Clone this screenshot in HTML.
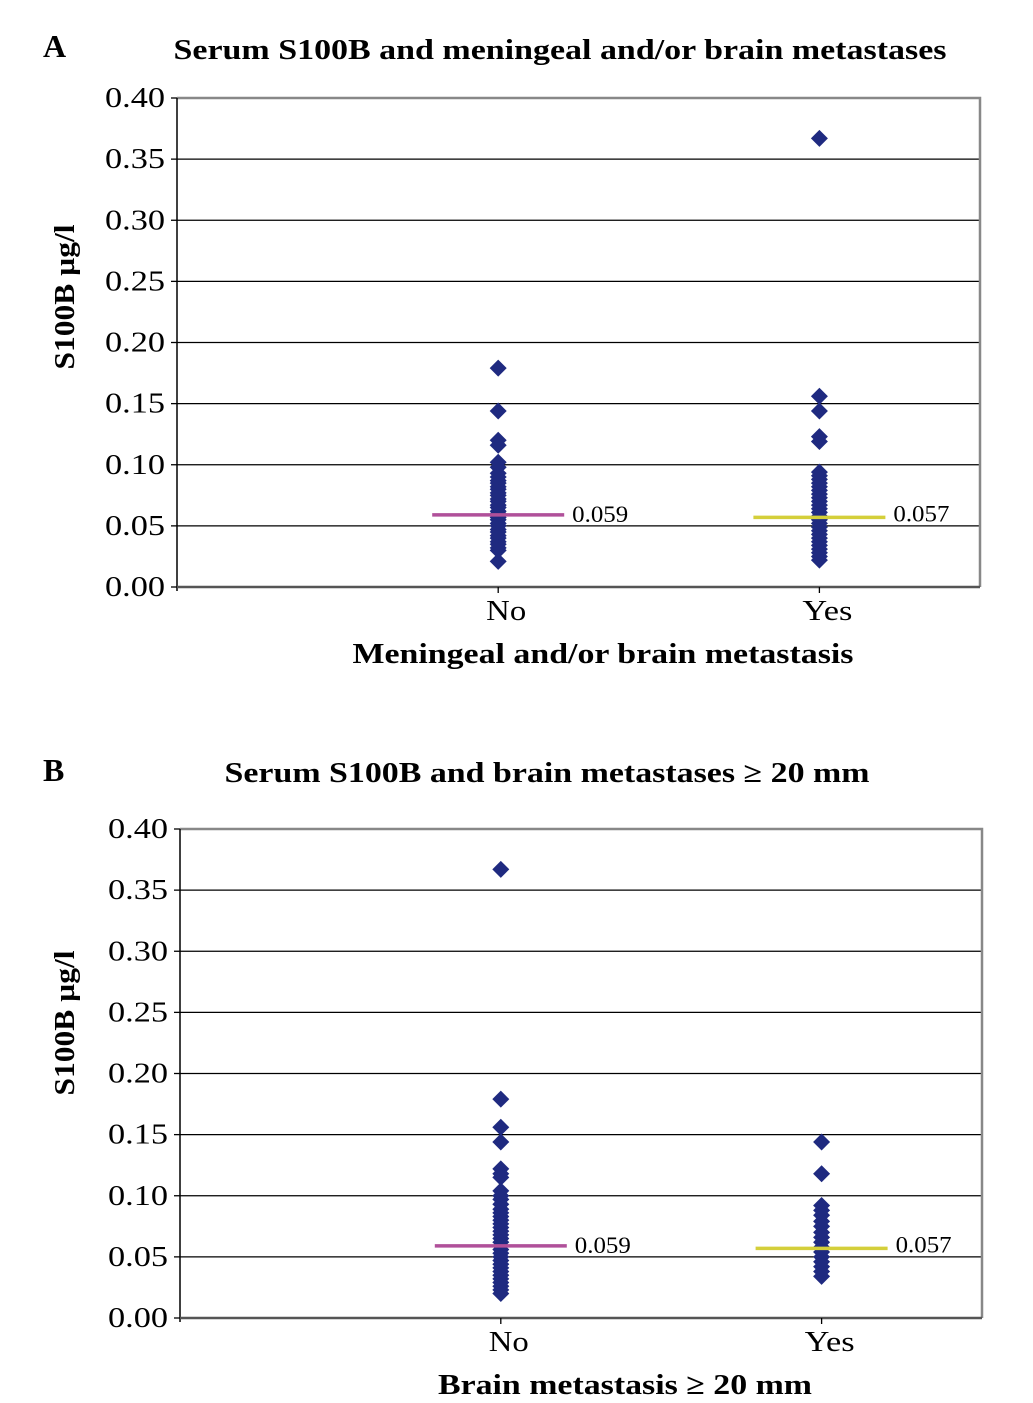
<!DOCTYPE html>
<html><head><meta charset="utf-8">
<style>
html,body{margin:0;padding:0;background:#fff;}
svg{display:block;font-family:"Liberation Serif",serif;}
</style></head>
<body>
<svg id="fig" width="1033" height="1403" viewBox="0 0 1033 1403"></svg>
<script>
const yTicks = [0.00,0.05,0.10,0.15,0.20,0.25,0.30,0.35,0.40];
const tickLabels = ["0.00","0.05","0.10","0.15","0.20","0.25","0.30","0.35","0.40"];
const categories = ["No","Yes"];
const aNo = [0.179,0.144,0.120,0.116,0.102,0.098,0.093,0.090,0.087,0.085,0.082,0.080,0.077,0.075,0.072,0.070,0.067,0.065,0.062,0.060,0.057,0.055,0.052,0.050,0.047,0.045,0.042,0.040,0.037,0.035,0.032,0.030,0.021];
const aYes = [0.367,0.156,0.144,0.123,0.119,0.094,0.091,0.088,0.085,0.082,0.079,0.076,0.073,0.070,0.067,0.064,0.061,0.058,0.055,0.052,0.049,0.046,0.043,0.040,0.037,0.034,0.031,0.028,0.025,0.022];
const bNo = [0.367,0.179,0.156,0.144,0.122,0.118,0.115,0.104,0.100,0.097,0.093,0.089,0.086,0.083,0.080,0.077,0.074,0.071,0.068,0.065,0.062,0.059,0.056,0.053,0.050,0.047,0.044,0.041,0.038,0.035,0.032,0.029,0.026,0.023,0.020];
const bYes = [0.144,0.118,0.092,0.088,0.084,0.079,0.075,0.070,0.066,0.062,0.058,0.054,0.050,0.046,0.042,0.038,0.034];
const aMeans = [0.059,0.057];
const bMeans = [0.059,0.057];
const meanLabels = ["0.059","0.057"];

const NS="http://www.w3.org/2000/svg";
const svg=document.getElementById('fig');
function mk(tag,attrs,parent){const e=document.createElementNS(NS,tag);for(const k in attrs)e.setAttribute(k,attrs[k]);(parent||svg).appendChild(e);return e;}

function panel(p){
  const g=mk('g',{});
  
  
  const W=p.right-p.left;
  const y=v=>p.bottom-(v/0.40)*(p.bottom-p.top);
  const x=i=>p.left+[0.4,0.8][i]*W;
  let t=mk('text',{x:p.letterX,y:p.letterY,'font-size':32,'font-weight':'bold'},g);t.textContent=p.letter;
  
  t=mk('text',{x:p.titleX,y:p.titleY,'font-size':28,'font-weight':'bold','text-anchor':'middle',textLength:p.titleW,lengthAdjust:'spacingAndGlyphs'},g);t.textContent=p.title;
  
  yTicks.forEach((v,i)=>{
    const yy=y(v);
    if(i>0&&i<yTicks.length-1){const l=mk('line',{x1:p.left,x2:p.right,y1:yy,y2:yy,stroke:'#000','stroke-width':1.3},g);
      }
    mk('line',{x1:p.left-6,x2:p.left,y1:yy,y2:yy,stroke:'#000','stroke-width':1.3},g);
    const tl=mk('text',{x:p.left-12,y:yy+9,'font-size':28,'text-anchor':'end',textLength:60,lengthAdjust:'spacingAndGlyphs'},g);tl.textContent=tickLabels[i];
    
  });
  mk('polyline',{points:`${p.left},${p.top} ${p.right},${p.top} ${p.right},${p.bottom}`,fill:'none',stroke:'#888','stroke-width':2.5},g);
  mk('line',{x1:p.left,x2:p.left,y1:p.top,y2:p.bottom+4,stroke:'#000','stroke-width':1.5},g);
  mk('line',{x1:p.left,x2:p.right,y1:p.bottom,y2:p.bottom,stroke:'#555','stroke-width':2.5},g);
  categories.forEach((c,i)=>{
    mk('line',{x1:x(i),x2:x(i),y1:p.bottom,y2:p.bottom+6,stroke:'#000','stroke-width':1.3},g);
    const cl=mk('text',{x:x(i)+8,y:p.bottom+33,'font-size':29,'text-anchor':'middle',textLength:[40,50][i],lengthAdjust:'spacingAndGlyphs'},g);cl.textContent=c;
    
  });
  t=mk('text',{x:p.xTitleX,y:p.bottom+76,'font-size':29,'font-weight':'bold','text-anchor':'middle',textLength:p.xTitleW,lengthAdjust:'spacingAndGlyphs'},g);t.textContent=p.xTitle;
  
  const cy=p.yTitleC;
  t=mk('text',{x:0,y:0,'font-size':29,'font-weight':'bold','text-anchor':'middle',textLength:145,lengthAdjust:'spacingAndGlyphs',transform:`translate(74,${cy}) rotate(-90)`},g);t.textContent='S100B µg/l';
  
  [p.no,p.yes].forEach((arr,i)=>{
    arr.forEach(v=>{
      const cx=x(i),yy=y(v),r=8.5;
      const d=mk('polygon',{points:`${cx},${yy-r} ${cx+r},${yy} ${cx},${yy+r} ${cx-r},${yy}`,fill:'#1f2a80'},g);
      
    });
  });
  const colors=['#b0509a','#d4cf3a'];
  p.means.forEach((m,i)=>{
    const yy=y(m);
    const l=mk('line',{x1:x(i)-66,x2:x(i)+66,y1:yy,y2:yy,stroke:colors[i],'stroke-width':3.5},g);
    
    const ml=mk('text',{x:x(i)+74,y:yy+7-(i*3),'font-size':23,textLength:56,lengthAdjust:'spacingAndGlyphs'},g);ml.textContent=meanLabels[i];
    
  });
}
panel({name:'panel-a',letter:'A',letterX:43,letterY:57,title:'Serum S100B and meningeal and/or brain metastases',titleX:560,titleY:59,titleW:773,
  left:177,right:980,top:98,bottom:587,xTitle:'Meningeal and/or brain metastasis',xTitleX:603,xTitleW:501,yTitleC:297,no:aNo,yes:aYes,means:aMeans});
panel({name:'panel-b',letter:'B',letterX:43,letterY:781,title:'Serum S100B and brain metastases \u2265 20 mm',titleX:547,titleY:782,titleW:645,
  left:180,right:982,top:829,bottom:1318,xTitle:'Brain metastasis \u2265 20 mm',xTitleX:625,xTitleW:374,yTitleC:1023,no:bNo,yes:bYes,means:bMeans});
</script>
</body></html>
